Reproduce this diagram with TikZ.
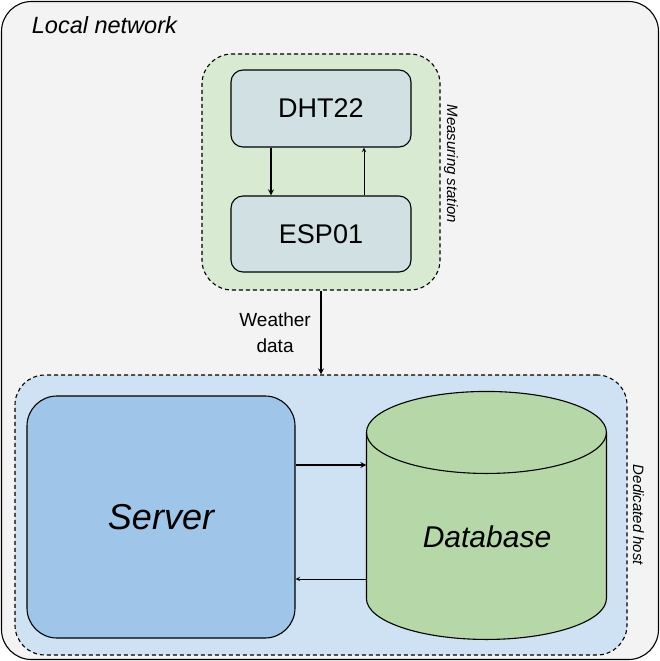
\documentclass[tikz,border=0pt]{standalone}
\usepackage{fontspec}
\setmainfont{Liberation Sans}
\usetikzlibrary{positioning}
\definecolor{lanfill}{HTML}{F3F3F3}
\definecolor{stationfill}{HTML}{D9EAD3}
\definecolor{sensorfill}{HTML}{D0E0E3}
\definecolor{hostfill}{HTML}{CFE2F3}
\definecolor{serverfill}{HTML}{9FC5E8}
\definecolor{dbfill}{HTML}{B6D7A8}
\newcommand{\fs}[1]{\fontsize{#1}{#1}\selectfont}
\begin{document}
\begin{tikzpicture}[x=1pt, y=-1pt, line join=round, line width=1.1pt, >=stealth,
    group/.style={draw, dash pattern=on 4pt off 3pt, rounded corners=30pt, inner sep=0pt},
    part/.style={draw, fill=sensorfill, rounded corners=12pt, inner sep=0pt, minimum width=180pt, font=\fs{27}},
    tag/.style={font=\fs{15}\itshape},
    link/.style={->, line width=1.7pt},
    back/.style={->, line width=1pt}]
    \useasboundingbox (0,0) rectangle (660,661);
    % frames
    \node[draw, fill=lanfill, rounded corners=30pt, minimum width=657pt, minimum height=658pt] (lan) at (330,330.5) {};
    \node[anchor=west, font=\fs{23.5}\itshape] (lantag) at (28,25) {Local network};
    \node[group, fill=stationfill, minimum width=238pt, minimum height=236pt] (station) at (321,172) {};
    \node[group, fill=hostfill, minimum width=612pt, minimum height=280pt] (host) at (321,515) {};
    \node[tag, rotate=-90] (stationtag) at (451,164) {Measuring station};
    \node[tag, rotate=-90] (hosttag) at (638.5,515) {Dedicated host};
    % measuring station
    \node[part, minimum height=77pt] (dht) at (321,108.5) {DHT22};
    \node[part, minimum height=76pt] (esp) at (321,234) {ESP01};
    \draw[link] ([xshift=-50pt]dht.south) -- ([xshift=-50pt]esp.north);
    \draw[back] ([xshift=43pt]esp.north) -- ([xshift=43pt]dht.south);
    \draw[link] (station.south) -- node[left=6pt, align=center, font=\fs{19}] (weather) {Weather\\[7pt]data} (host.north);
    % dedicated host
    \node[draw, fill=serverfill, rounded corners=30pt, minimum width=268pt, minimum height=242pt, font=\fs{36}\itshape] (server) at (161,517) {Server};
    \node[minimum width=240pt, minimum height=248pt, inner sep=0pt] (db) at (487,516) {};
    \draw[fill=dbfill] (db.north west) ++(0,41) -- ++(0,166) arc[start angle=180, end angle=0, x radius=120, y radius=41]
        -- ++(0,-166) arc[start angle=0, end angle=-180, x radius=120, y radius=41] -- cycle;
    \draw (db.north west) ++(0,41) arc[start angle=180, end angle=0, x radius=120, y radius=41];
    \node[font=\fs{30}\itshape] (dbtag) at ([yshift=-21pt]db.center) {Database};
    \coordinate (toDb) at ([yshift=52pt]server.east);
    \coordinate (fromDb) at ([yshift=-62pt]server.east);
    \draw[link] (toDb) -- (toDb -| db.west);
    \draw[back] (fromDb -| db.west) -- (fromDb);
\end{tikzpicture}
\end{document}
